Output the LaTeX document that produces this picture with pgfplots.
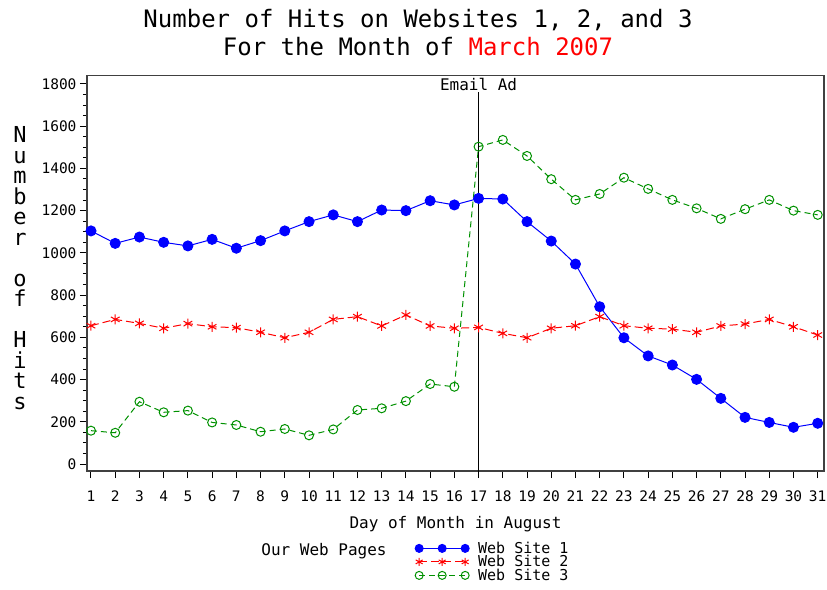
\documentclass[border=0pt]{standalone}
\usepackage{pgfplots}
\pgfplotsset{compat=1.18}
\usepackage{fontspec}
\newfontfamily\mono{DejaVu Sans Mono}
\definecolor{sgreen}{RGB}{0,145,0}
\pgfplotstableread{
day s1 s2 s3
1 1104 655 158
2 1045 685 148
3 1075 666 295
4 1050 643 245
5 1033 665 253
6 1064 650 197
7 1022 646 185
8 1058 624 153
9 1104 598 166
10 1148 624 136
11 1180 685 164
12 1148 698 256
13 1203 654 264
14 1200 706 298
15 1247 654 379
16 1227 643 366
17 1258 647 1503
18 1255 619 1535
19 1148 598 1459
20 1056 643 1349
21 947 655 1251
22 745 698 1279
23 598 655 1356
24 512 643 1303
25 469 639 1251
26 401 624 1211
27 311 654 1161
28 221 663 1207
29 197 685 1251
30 174 650 1200
31 193 611 1180
}\hits
\begin{document}
\begin{tikzpicture}
\useasboundingbox (0,0) rectangle (827pt,-589pt);
\node[font=\mono\fontsize{24}{28}\selectfont, align=center] at (418pt,-33pt)
  {Number of Hits on Websites 1, 2, and 3\\For the Month of {\color{red}March 2007}};
\node[font=\mono\fontsize{16}{16}\selectfont] at (324pt,-551pt) {Our Web Pages};
\begin{axis}[
  at={(87pt,-471pt)}, anchor=south west,
  scale only axis, width=737pt, height=395.5pt,
  xmin=0.835, xmax=31.26, ymin=-33, ymax=1840,
  xtick={1,...,31}, ytick={0,200,...,1800},
  minor y tick num=3,
  tick align=outside, tick pos=left,
  major tick length=7pt, minor tick length=4pt,
  axis line style={line width=1.2pt, black!75},
  every tick/.style={black, line width=1pt},
  /pgf/number format/1000 sep={},
  /pgf/number format/assume math mode=true,
  ticklabel style={font=\mono\fontsize{14.5}{15}\selectfont},
  xticklabel style={yshift=-9pt},
  xlabel={Day of Month in August},
  xlabel style={font=\mono\fontsize{16}{16}\selectfont, at={(axis description cs:0.5,-0.134)}, anchor=center},
  ylabel={N\\u\\m\\b\\e\\r\\\mbox{}\\o\\f\\\mbox{}\\H\\i\\t\\s},
  ylabel style={rotate=-90, align=center, font=\mono\fontsize{22}{20.5}\selectfont, at={(axis description cs:-0.0909,0.513)}, anchor=center},
  legend style={at={(axis description cs:0.445,-0.18)}, anchor=north west, draw=none, fill=none,
    font=\mono\fontsize{15}{12}\selectfont, row sep=1.5pt, inner sep=0pt,
    nodes={inner sep=1pt, text height=10pt, text depth=0pt},
    /tikz/every odd column/.append style={column sep=8pt}},
  legend cell align=left,
  legend image code/.code={\draw[mark repeat=1,mark phase=1,mark size=4pt] plot coordinates {(0pt,0pt)(23pt,0pt)(46pt,0pt)};},
]
\addplot[blue, line width=1pt, mark=*, mark size=5pt, mark options={solid}] table[x=day,y=s1] {\hits};
\addlegendentry{Web Site 1}
\addplot[red, line width=1pt, dash pattern=on 8pt off 4pt, mark=asterisk, mark size=5pt, mark options={solid}] table[x=day,y=s2] {\hits};
\addlegendentry{Web Site 2}
\addplot[sgreen, line width=1pt, dash pattern=on 6pt off 4pt, mark=o, mark size=4.5pt, mark options={solid}] table[x=day,y=s3] {\hits};
\addlegendentry{Web Site 3}
\addplot[black, line width=1.2pt, forget plot] coordinates {(17,-40) (17,1762)};
\node[font=\mono\fontsize{16}{16}\selectfont, anchor=south, inner sep=1pt] at (axis cs:17,1762) {Email Ad};
\end{axis}
\end{tikzpicture}
\end{document}
